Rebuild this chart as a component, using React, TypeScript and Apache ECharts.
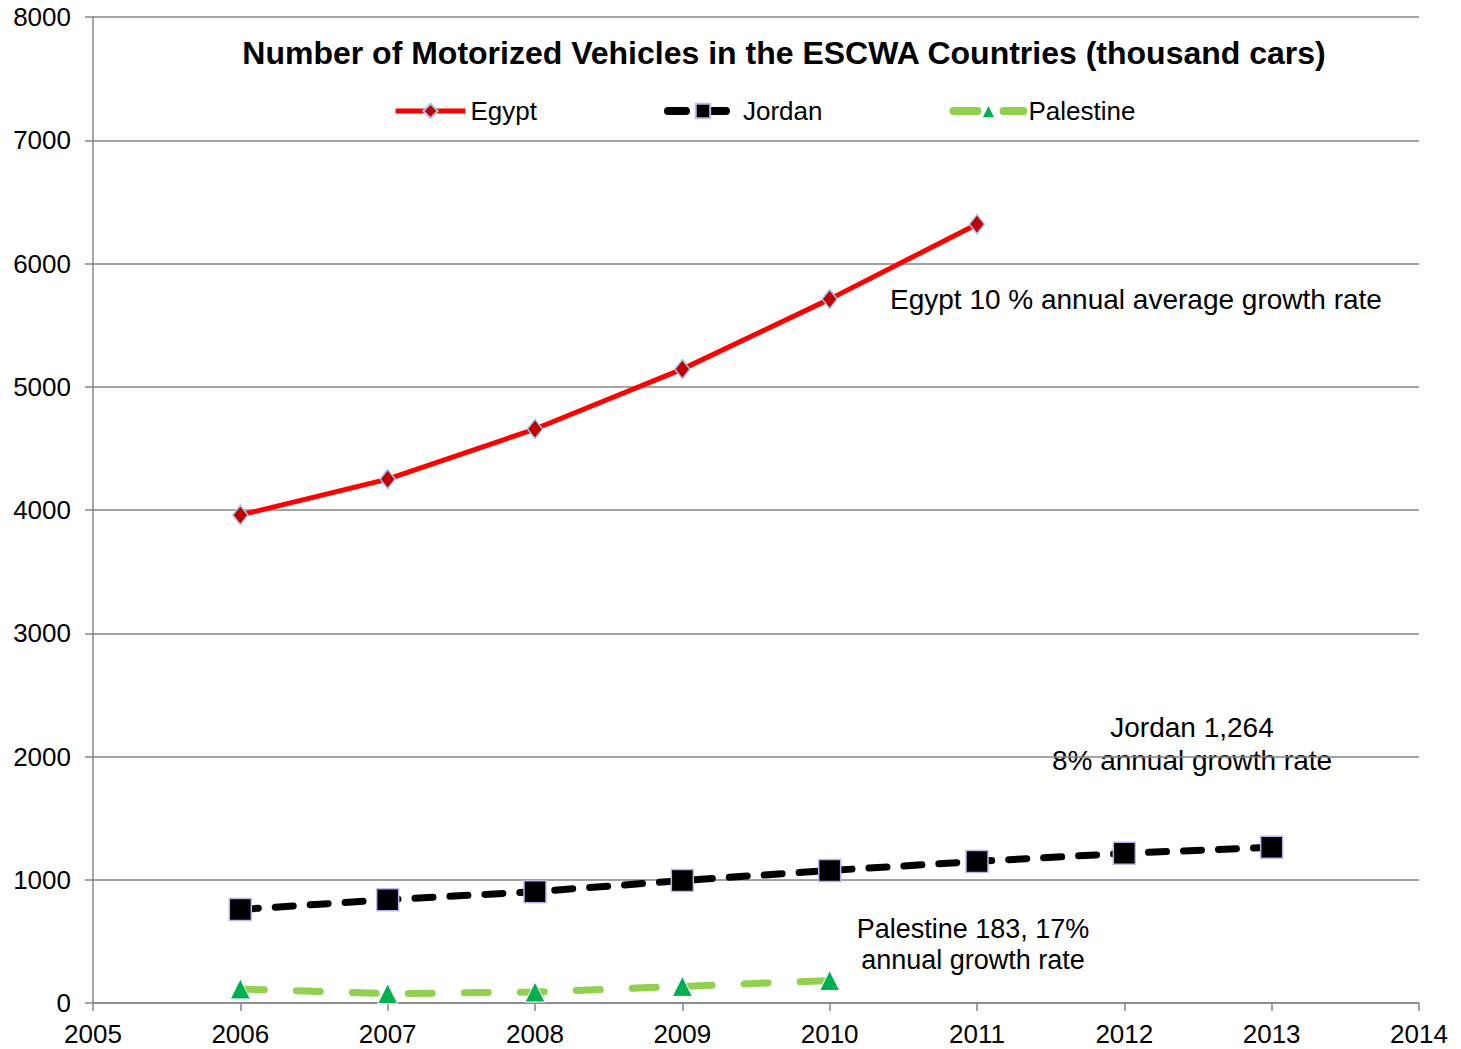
import React, { useEffect, useRef } from "react";
import * as echarts from "echarts";

const years = [2006, 2007, 2008, 2009, 2010, 2011, 2012, 2013];
const egypt = [3959, 4251, 4657, 5143, 5711, 6319];
const jordan = [759, 838, 903, 994, 1075, 1149, 1214, 1264];
const palestine = [114, 76, 89, 135, 183];

const titleText = "Number of Motorized Vehicles in the ESCWA Countries (thousand cars)";
const egyptNote = "Egypt 10 % annual average growth rate";
const jordanNote = "Jordan 1,264\n8% annual growth rate";
const palestineNote = "Palestine 183, 17%\nannual growth rate";

const FONT = "'Liberation Sans', Arial, sans-serif";
const GRID_COLOR = "#868686";

function pairs(vals: number[]) {
  return vals.map((v, i) => [years[i], v]);
}

export default function App() {
  const ref = useRef<HTMLDivElement>(null);
  useEffect(() => {
    if (!ref.current) return;
    const chart = echarts.init(ref.current, null, { renderer: "svg" });
    chart.setOption({
      animation: false,
      backgroundColor: "#ffffff",
      textStyle: { fontFamily: FONT },
      grid: { left: 93, right: 42, top: 17, bottom: 46, containLabel: false },
      legend: {
        left: 393,
        top: 98,
        padding: 0,
        itemWidth: 70,
        itemHeight: 18,
        itemGap: 127,
        textStyle: { fontSize: 26, color: "#000", fontFamily: FONT },
        data: [
          {
            name: "Egypt",
            lineStyle: { color: "#FF0000", width: 5 },
          },
          {
            name: "Jordan",
            lineStyle: { color: "#000000", width: 8, type: [18, 22], cap: "round" },
          },
          {
            name: "Palestine",
            lineStyle: { color: "#92D050", width: 8, type: [24, 26], cap: "round" },
          },
        ],
      },
      xAxis: {
        type: "value",
        min: 2005,
        max: 2014,
        interval: 1,
        axisLine: { show: true, lineStyle: { color: GRID_COLOR, width: 1.5 } },
        axisTick: { show: true, length: 8, lineStyle: { color: GRID_COLOR, width: 1.5 } },
        splitLine: { show: false },
        axisLabel: {
          fontSize: 26,
          color: "#000",
          margin: 18,
          fontFamily: FONT,
          formatter: (v: number) => String(v),
        },
      },
      yAxis: {
        type: "value",
        min: 0,
        max: 8000,
        interval: 1000,
        axisLine: { show: true, lineStyle: { color: GRID_COLOR, width: 1.5 } },
        axisTick: { show: true, length: 8, lineStyle: { color: GRID_COLOR, width: 1.5 } },
        splitLine: { show: true, lineStyle: { color: GRID_COLOR, width: 1.5 } },
        axisLabel: {
          fontSize: 26,
          color: "#000",
          margin: 22,
          fontFamily: FONT,
          formatter: (v: number) => String(v),
        },
      },
      series: [
        {
          name: "Egypt",
          type: "line",
          data: pairs(egypt),
          symbol: "diamond",
          symbolSize: [15, 19],
          lineStyle: { color: "#FF0000", width: 5 },
          itemStyle: { color: "#C00000", borderColor: "#9DC3E6", borderWidth: 1.5 },
          z: 4,
        },
        {
          name: "Jordan",
          type: "line",
          data: pairs(jordan),
          symbol: "rect",
          symbolSize: 22,
          lineStyle: { color: "#000000", width: 7, type: [18, 17], cap: "round" },
          itemStyle: { color: "#000000", borderColor: "#B8B8F0", borderWidth: 1.5 },
          z: 3,
        },
        {
          name: "Palestine",
          type: "line",
          data: pairs(palestine),
          symbol: "triangle",
          symbolSize: [20, 20],
          lineStyle: { color: "#92D050", width: 7, type: [24, 32], cap: "round" },
          itemStyle: { color: "#00B050", borderColor: "#ffffff", borderWidth: 1 },
          z: 2,
        },
      ],
      graphic: [
        {
          type: "text",
          x: 784,
          y: 53,
          style: {
            text: titleText,
            font: `bold 32px ${FONT}`,
            fill: "#000",
            align: "center",
            verticalAlign: "middle",
            textAlign: "center",
            textVerticalAlign: "middle",
          },
        },
        {
          type: "text",
          x: 890,
          y: 299,
          style: {
            text: egyptNote,
            font: `28px ${FONT}`,
            fill: "#000",
            align: "left",
            verticalAlign: "middle",
            textAlign: "left",
            textVerticalAlign: "middle",
          },
        },
        {
          type: "text",
          x: 1192,
          y: 743.5,
          style: {
            text: jordanNote,
            font: `28px ${FONT}`,
            lineHeight: 33,
            fill: "#000",
            align: "center",
            verticalAlign: "middle",
            textAlign: "center",
            textVerticalAlign: "middle",
          },
        },
        {
          type: "text",
          x: 973,
          y: 944.5,
          style: {
            text: palestineNote,
            font: `27px ${FONT}`,
            lineHeight: 31,
            fill: "#000",
            align: "center",
            verticalAlign: "middle",
            textAlign: "center",
            textVerticalAlign: "middle",
          },
        },
      ],
    });
    return () => chart.dispose();
  }, []);
  return (
    <div
      ref={ref}
      style={{ position: "fixed", left: 0, top: 0, width: 1461, height: 1049, background: "#fff" }}
    />
  );
}
